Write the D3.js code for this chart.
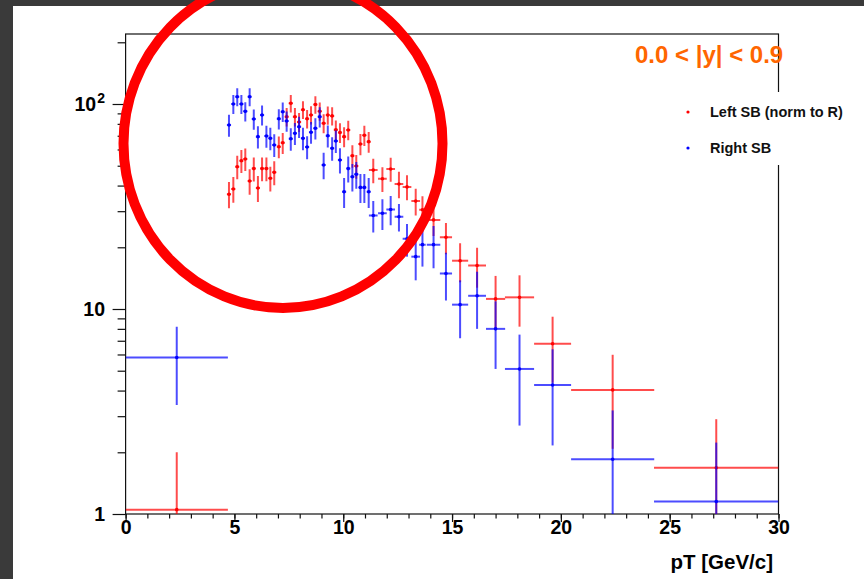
<!DOCTYPE html>
<html>
<head>
<meta charset="utf-8">
<script src="https://cdn.jsdelivr.net/npm/d3@7"></script>
<style>
  body { margin: 0; background: #fff; }
  text { font-family: "Liberation Sans", Arial, Helvetica, sans-serif; font-weight: bold; }
</style>
</head>
<body>
<div id="chart"></div>
<script>
// bin centres and half widths (pT, GeV/c)
const ptCenter = [2.35,
  4.75, 4.95, 5.13, 5.32, 5.50, 5.70, 5.89, 6.08, 6.27, 6.47, 6.65, 6.83,
  7.04, 7.22, 7.40, 7.59, 7.78, 7.97, 8.15, 8.34, 8.52, 8.72, 8.92, 9.10,
  9.29, 9.49, 9.66, 9.85, 10.04, 10.23, 10.42, 10.60, 10.79, 10.97, 11.17,
  11.38, 11.80, 12.18, 12.56, 12.93, 13.33, 13.64, 14.15, 14.72, 15.37,
  16.15, 17.00, 18.10, 19.62, 22.38, 27.14];
const ptHalf = [2.35,
  0.095, 0.095, 0.095, 0.095, 0.095, 0.095, 0.095, 0.095, 0.095, 0.095, 0.095, 0.095,
  0.095, 0.095, 0.095, 0.095, 0.095, 0.095, 0.095, 0.095, 0.095, 0.095, 0.095, 0.095,
  0.095, 0.095, 0.095, 0.095, 0.095, 0.095, 0.095, 0.095, 0.095, 0.095, 0.095,
  0.2, 0.2, 0.2, 0.2, 0.2, 0.2, 0.15, 0.31, 0.28, 0.37,
  0.41, 0.44, 0.67, 0.85, 1.91, 2.86];

// Left sideband (normalised to right)
const leftSB = [1.05,
  36.3, 38.5, 49.4, 52.9, 53.9, 42.1, 48.4, 38.9, 48.4, 48.4, 43.4, 46.4,
  61.9, 64.7, 86.7, 100.8, 86.7, 81.7, 93.8, 84.8, 88.4, 99.4, 92.2, 80.5,
  88.3, 87.5, 74.9, 72.6, 69.3, 74.7, 55.9, 49.8, 63.8, 70.4, 65.5,
  47.6, 43.2, 48.2, 40.7, 39.4, 33.6, 30.5, 27.2, 22.4, 17.2,
  16.3, 11.2, 11.4, 6.77, 4.03, 1.68];
const leftErr = [0.95,
  5.3, 5.5, 6.5, 6.8, 6.8, 6.0, 6.5, 5.6, 6.4, 6.4, 6.0, 6.2,
  7.5, 7.6, 9.0, 9.8, 9.0, 8.6, 9.4, 8.8, 9.0, 9.8, 9.4, 8.6,
  9.0, 9.0, 8.2, 8.0, 7.8, 8.2, 7.0, 6.6, 7.6, 8.0, 7.6,
  6.5, 6.0, 6.5, 6.0, 5.5, 5.0, 5.0, 4.5, 3.9, 3.7,
  3.6, 3.3, 3.2, 2.4, 1.95, 1.22];

// Right sideband
const rightSB = [5.8,
  79.0, 100, 108.5, 100, 92.1, 108.5, 84.5, 69.3, 88.4, 69.8, 68.0, 63.1,
  84.8, 91.7, 82.6, 67.7, 71.9, 77.5, 68.0, 61.7, 72.8, 76.1, 86.7, 50.4,
  70.0, 60.8, 66.0, 53.3, 37.3, 48.4, 44.2, 45.4, 39.2, 39.2, 37.3,
  28.6, 29.3, 30.6, 28.2, 22.0, 18.0, 20.6, 20.6, 14.9, 10.5,
  11.6, 8.0, 5.1, 4.26, 1.85, 1.15];
const rightErr = [2.4,
  9.7, 10.5, 11.0, 10.5, 10.0, 11.0, 9.6, 8.6, 9.8, 8.6, 8.5, 8.0,
  9.6, 10.0, 9.4, 8.5, 8.8, 9.2, 8.5, 8.0, 8.8, 9.0, 9.8, 7.4,
  8.6, 8.0, 8.3, 7.5, 6.2, 7.0, 6.8, 6.8, 6.3, 6.3, 6.2,
  5.0, 5.0, 5.0, 4.3, 4.0, 4.2, 4.5, 4.8, 3.9, 3.3,
  3.6, 2.9, 2.4, 2.1, 1.35, 1.08];

const xTicks = [0, 5, 10, 15, 20, 25, 30];
const xMinor = d3.range(0, 31, 1);
const yTicks = [1, 10, 100];
const yMinor = [2, 3, 4, 5, 6, 7, 8, 9, 20, 30, 40, 50, 60, 70, 80, 90, 200];

const width = 864, height = 579;
const frame = { left: 125.6, right: 778.5, top: 34, bottom: 514 };

const svg = d3.select('#chart').append('svg')
  .attr('width', width)
  .attr('height', height);

// pad background and dark canvas border
svg.append('rect').attr('width', width).attr('height', height).attr('fill', '#fff');
svg.append('rect').attr('x', 0).attr('y', 0).attr('width', width).attr('height', 6).attr('fill', '#3a3a3a');
svg.append('rect').attr('x', 0).attr('y', 0).attr('width', 13).attr('height', height).attr('fill', '#3a3a3a');

const x = d3.scaleLinear().domain([0, 30]).range([frame.left, frame.right]);
const y = d3.scaleLog()
  .domain([1, Math.pow(10, (frame.bottom - frame.top) / 205)])
  .range([frame.bottom, frame.top]);

// axes
const xAxis = svg.append('g').attr('transform', `translate(0,${frame.bottom})`);
xAxis.append('g').call(d3.axisBottom(x).tickValues(xMinor).tickSize(4.5).tickFormat(''));
xAxis.append('g').call(d3.axisBottom(x).tickValues(xTicks).tickSize(8).tickFormat(d3.format('d')));
xAxis.selectAll('.domain').remove();
xAxis.selectAll('line').attr('stroke', '#111').attr('stroke-width', 1.2);
xAxis.selectAll('text')
  .attr('y', 20).attr('dy', 0)
  .attr('font-size', 19.5).attr('font-family', null).attr('fill', '#000');

const yAxis = svg.append('g').attr('transform', `translate(${frame.left},0)`);
yAxis.append('g').call(d3.axisLeft(y).tickValues(yMinor).tickSize(8).tickFormat(''));
yAxis.append('g').call(d3.axisLeft(y).tickValues(yTicks).tickSize(13).tickFormat(''));
yAxis.selectAll('.domain').remove();
yAxis.selectAll('line').attr('stroke', '#111').attr('stroke-width', 1.2);

// y tick labels, 10^2 with a superscript
yTicks.forEach(v => {
  const t = svg.append('text')
    .attr('x', 105)
    .attr('y', y(v) + 7)
    .attr('text-anchor', 'end')
    .attr('font-size', 19.5);
  if (v === 100) {
    t.append('tspan').text('10');
    t.append('tspan').attr('font-size', 14).attr('dx', 1).attr('dy', -8).text('2');
  } else {
    t.text(v);
  }
});

// x title
svg.append('text')
  .attr('x', 773).attr('y', 569)
  .attr('text-anchor', 'end')
  .attr('font-size', 20.5)
  .text('pT [GeV/c]');

// frame
svg.append('rect')
  .attr('x', frame.left).attr('y', frame.top)
  .attr('width', frame.right - frame.left).attr('height', frame.bottom - frame.top)
  .attr('fill', 'none').attr('stroke', '#111').attr('stroke-width', 1.2);

// clip for the data
svg.append('clipPath').attr('id', 'plotClip')
  .append('rect').attr('x', frame.left).attr('y', frame.top)
  .attr('width', frame.right - frame.left).attr('height', frame.bottom - frame.top);

function drawSeries(values, errs, color) {
  const rows = values.map((v, i) => ({ pt: ptCenter[i], h: ptHalf[i], v: v, e: errs[i] }));
  const g = svg.append('g').attr('clip-path', 'url(#plotClip)');
  const pts = g.selectAll('g').data(rows).enter().append('g');
  pts.append('line')
    .attr('x1', d => x(d.pt - d.h)).attr('x2', d => x(d.pt + d.h))
    .attr('y1', d => y(d.v)).attr('y2', d => y(d.v));
  pts.append('line')
    .attr('x1', d => x(d.pt)).attr('x2', d => x(d.pt))
    .attr('y1', d => y(d.v + d.e))
    .attr('y2', d => d.v - d.e > 0.5 ? y(d.v - d.e) : frame.bottom + 5);
  pts.selectAll('line')
    .attr('stroke', color).attr('stroke-width', 2).attr('stroke-opacity', 0.7);
  pts.append('circle')
    .attr('cx', d => x(d.pt)).attr('cy', d => y(d.v))
    .attr('r', 1.8).attr('fill', color);
}

drawSeries(leftSB, leftErr, '#ff0000');
drawSeries(rightSB, rightErr, '#0000ff');

// legend (white box hides part of the frame)
svg.append('rect')
  .attr('x', 672).attr('y', 92).attr('width', 190).attr('height', 73)
  .attr('fill', '#fff');
const legend = [['Left SB (norm to R)', '#ff0000'], ['Right SB', '#0000ff']];
legend.forEach((d, i) => {
  svg.append('circle').attr('cx', 688).attr('cy', 112 + i * 36).attr('r', 1.6).attr('fill', d[1]);
  svg.append('text').attr('x', 710).attr('y', 117 + i * 36)
    .attr('font-size', 14.5).attr('fill', '#111').text(d[0]);
});

// rapidity label
svg.append('text')
  .attr('x', 635).attr('y', 63)
  .attr('font-size', 24)
  .attr('fill', '#ff6600')
  .text('0.0 < |y| < 0.9');

// hand drawn highlight
svg.append('ellipse')
  .attr('cx', 283).attr('cy', 143.5)
  .attr('rx', 159.5).attr('ry', 164.5)
  .attr('fill', 'none')
  .attr('stroke', '#ff0000')
  .attr('stroke-width', 10);
</script>
</body>
</html>
